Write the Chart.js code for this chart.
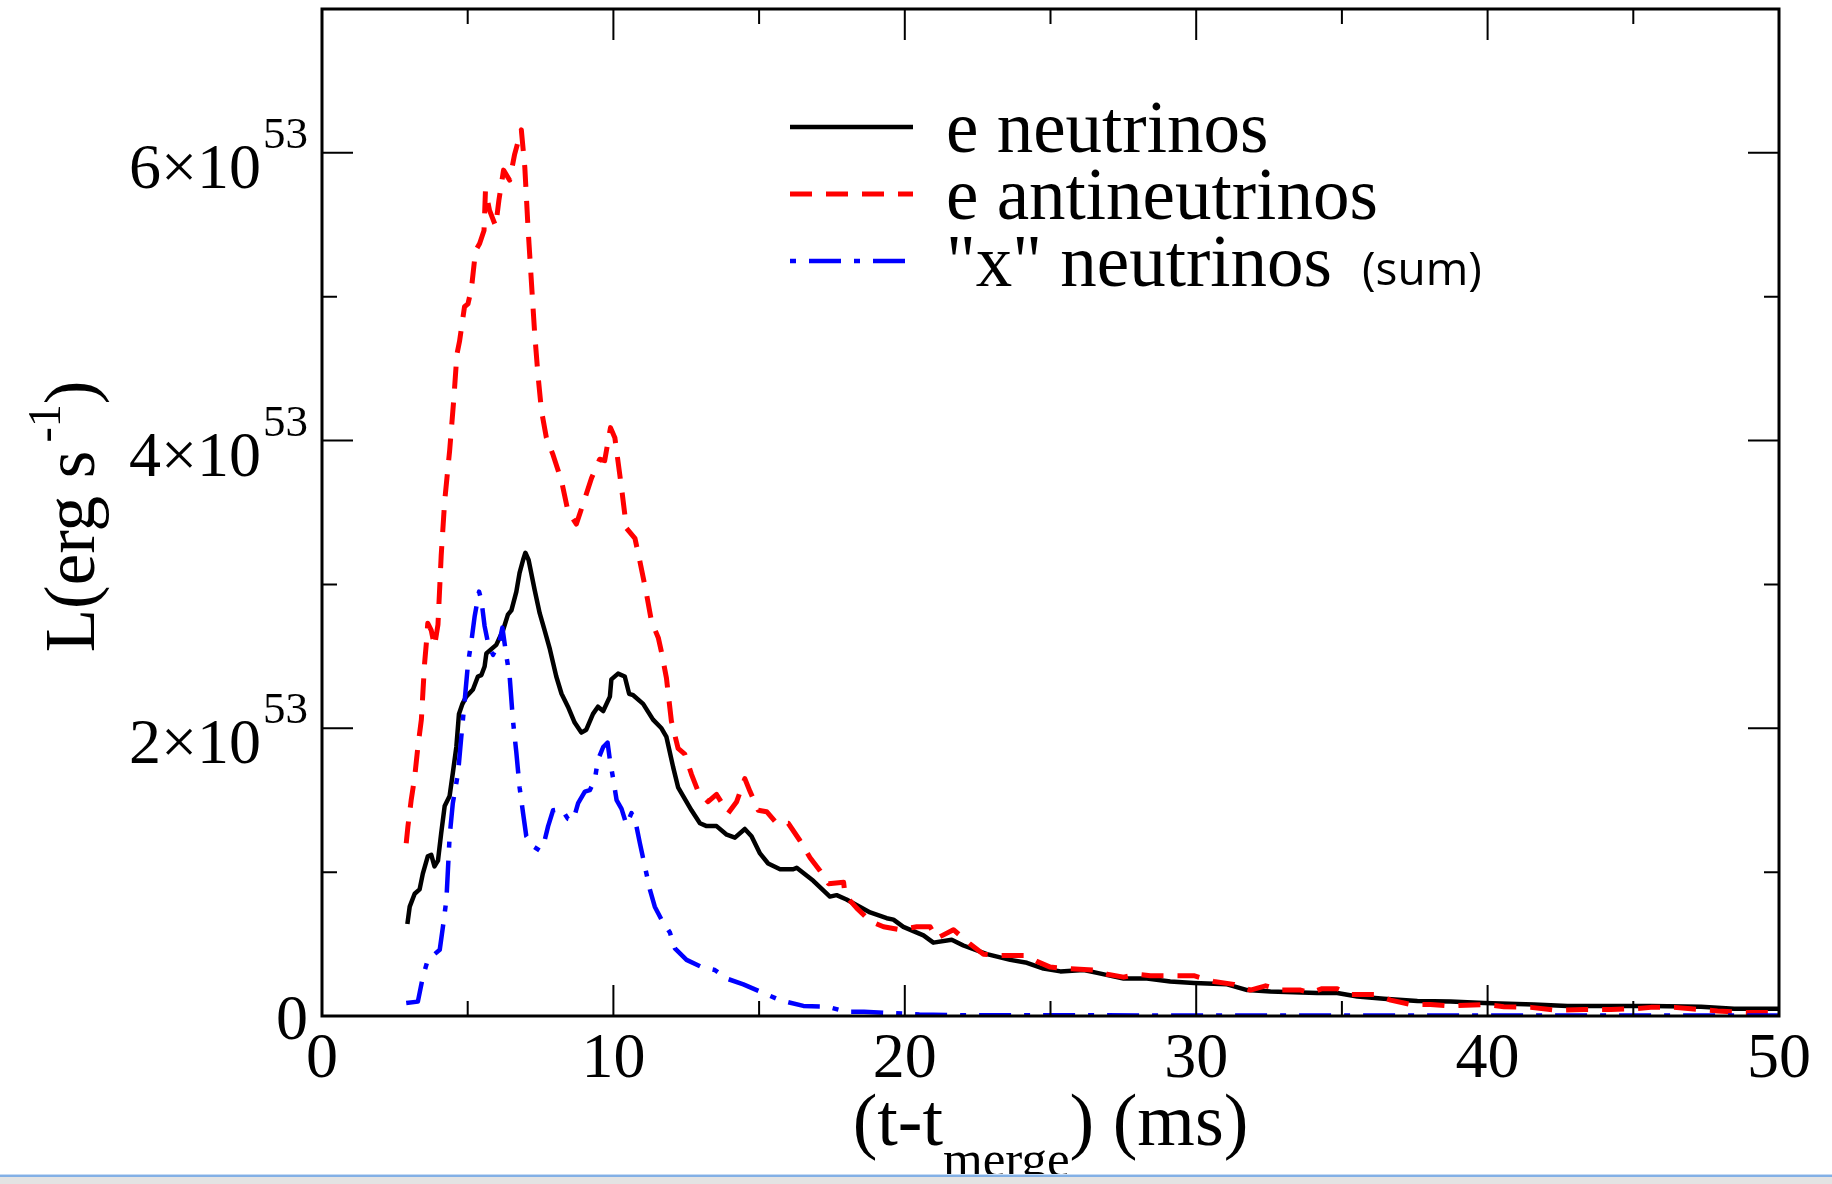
<!DOCTYPE html>
<html>
<head>
<meta charset="utf-8">
<title>Neutrino luminosities after merger</title>
<script src="https://cdn.jsdelivr.net/npm/chart.js@4.4.1/dist/chart.umd.min.js"></script>
<style>
  html, body { margin: 0; padding: 0; background: #fff; }
  #wrap { position: relative; width: 1832px; height: 1184px; overflow: hidden; }
  #bar-line { position: absolute; left: 0; top: 1174px; width: 1832px; height: 1px; background: #c4daf4; }
  #bar-line2 { position: absolute; left: 0; top: 1175px; width: 1832px; height: 2px; background: #82b0e6; }
  #bar { position: absolute; left: 0; top: 1177px; width: 1832px; height: 7px; background: #e3e3e3; }
</style>
</head>
<body>
<div id="wrap">
  <canvas id="chart" width="1832" height="1184"></canvas>
  <div id="bar-line"></div>
  <div id="bar-line2"></div>
  <div id="bar"></div>
</div>
<script>
// time after merger (ms) and luminosity in units of 10^53 erg/s
const tNu = [2.93, 3.01, 3.18, 3.35, 3.46, 3.63, 3.75, 3.86, 3.98, 4.09, 4.21, 4.38, 4.49, 4.61, 4.70, 4.82, 4.95, 5.18, 5.35, 5.47,
  5.58, 5.64, 5.81, 5.98, 6.21, 6.38, 6.50, 6.67, 6.78, 6.90, 6.98, 7.09, 7.30, 7.47, 7.64, 7.82, 8.04, 8.22, 8.44, 8.67,
  8.90, 9.07, 9.30, 9.47, 9.65, 9.88, 9.93, 10.16, 10.39, 10.54, 10.68, 11.02, 11.36, 11.65, 11.82, 12.05, 12.22, 12.39, 12.68, 12.97,
  13.20, 13.54, 13.89, 14.17, 14.51, 14.74, 15.03, 15.31, 15.72, 16.17, 16.29, 16.86, 17.43, 17.66, 18.00, 18.81, 19.38, 19.61, 19.95, 20.64,
  20.98, 21.61, 22.01, 22.82, 23.62, 24.19, 24.76, 25.34, 26.14, 26.60, 27.51, 28.31, 29.11, 29.92, 31.06, 31.75, 32.55, 34.15, 34.84, 35.53,
  36.44, 37.59, 38.73, 39.88, 41.59, 42.74, 44.46, 45.60, 47.32, 48.46, 50.00]
const lNu = [0.64, 0.76, 0.85, 0.88, 0.99, 1.11, 1.12, 1.04, 1.08, 1.27, 1.46, 1.53, 1.69, 1.87, 2.10, 2.17, 2.22, 2.27, 2.36, 2.37,
  2.43, 2.52, 2.55, 2.58, 2.68, 2.79, 2.82, 2.95, 3.08, 3.17, 3.22, 3.17, 2.96, 2.80, 2.68, 2.55, 2.36, 2.24, 2.15, 2.04,
  1.97, 1.99, 2.10, 2.15, 2.12, 2.22, 2.34, 2.38, 2.36, 2.24, 2.23, 2.17, 2.06, 2.00, 1.94, 1.73, 1.59, 1.53, 1.43, 1.34,
  1.32, 1.32, 1.26, 1.24, 1.30, 1.25, 1.13, 1.06, 1.02, 1.02, 1.03, 0.94, 0.83, 0.84, 0.81, 0.72, 0.68, 0.67, 0.62, 0.56,
  0.51, 0.53, 0.49, 0.43, 0.39, 0.37, 0.33, 0.31, 0.32, 0.30, 0.26, 0.26, 0.24, 0.23, 0.22, 0.18, 0.17, 0.16, 0.16, 0.135,
  0.12, 0.105, 0.10, 0.09, 0.08, 0.07, 0.07, 0.07, 0.065, 0.05, 0.05]

const tNuBar = [2.89, 2.95, 3.06, 3.18, 3.29, 3.41, 3.46, 3.52, 3.58, 3.63, 3.75, 3.86, 3.98, 4.09, 4.21, 4.38, 4.52, 4.63, 4.72, 4.89,
  5.01, 5.13, 5.27, 5.41, 5.56, 5.61, 5.75, 5.96, 6.07, 6.23, 6.44, 6.61, 6.84, 6.96, 7.07, 7.19, 7.30, 7.41, 7.53, 7.70,
  7.93, 8.22, 8.44, 8.73, 8.96, 9.25, 9.53, 9.70, 9.90, 10.05, 10.28, 10.45, 10.74, 10.91, 11.14, 11.31, 11.54, 11.65, 11.82, 11.99,
  12.22, 12.45, 12.68, 12.91, 13.25, 13.54, 13.94, 14.23, 14.51, 14.69, 14.97, 15.26, 15.60, 16.00, 16.40, 16.75, 17.09, 17.38, 17.90, 17.95,
  18.35, 18.81, 19.27, 19.84, 20.41, 20.87, 21.10, 21.67, 22.24, 22.70, 23.27, 24.19, 24.53, 24.99, 25.57, 26.48, 26.94, 27.51, 27.97, 28.43,
  29.23, 29.92, 30.60, 31.29, 31.86, 32.38, 32.89, 33.58, 33.92, 34.32, 34.84, 35.29, 36.10, 36.67, 37.36, 38.04, 38.73, 39.88, 40.56, 41.48,
  42.40, 43.31, 44.23, 45.03, 45.60, 46.40, 46.98, 47.89, 48.81, 50.00]
const lNuBar = [1.20, 1.32, 1.50, 1.66, 1.87, 2.06, 2.24, 2.45, 2.59, 2.73, 2.68, 2.57, 2.72, 3.20, 3.58, 3.93, 4.28, 4.60, 4.69, 4.93,
  4.95, 5.06, 5.32, 5.37, 5.46, 5.74, 5.60, 5.49, 5.67, 5.88, 5.81, 5.99, 6.16, 5.90, 5.48, 5.09, 4.74, 4.46, 4.21, 4.02,
  3.90, 3.72, 3.51, 3.42, 3.56, 3.74, 3.87, 3.86, 4.09, 4.02, 3.67, 3.39, 3.32, 3.16, 2.93, 2.74, 2.63, 2.53, 2.35, 2.05,
  1.86, 1.82, 1.68, 1.56, 1.49, 1.54, 1.41, 1.49, 1.65, 1.56, 1.43, 1.42, 1.34, 1.34, 1.22, 1.10, 1.01, 0.92, 0.93, 0.84,
  0.75, 0.66, 0.62, 0.60, 0.62, 0.62, 0.54, 0.60, 0.50, 0.43, 0.42, 0.42, 0.38, 0.34, 0.33, 0.32, 0.29, 0.27, 0.29, 0.28,
  0.28, 0.28, 0.24, 0.22, 0.18, 0.21, 0.18, 0.18, 0.16, 0.19, 0.19, 0.15, 0.15, 0.11, 0.08, 0.08, 0.07, 0.08, 0.065, 0.06,
  0.04, 0.045, 0.045, 0.05, 0.06, 0.06, 0.05, 0.035, 0.025, 0.025]

const tNuX = [2.89, 3.29, 3.46, 3.63, 4.04, 4.15, 4.27, 4.38, 4.49, 4.67, 4.78, 4.90, 5.01, 5.13, 5.24, 5.39, 5.47, 5.58, 5.70, 5.87,
  6.10, 6.19, 6.33, 6.44, 6.55, 6.67, 6.78, 6.90, 7.01, 7.24, 7.47, 7.64, 7.76, 7.93, 8.22, 8.44, 8.62, 8.79, 9.02, 9.19,
  9.36, 9.47, 9.65, 9.80, 9.88, 10.00, 10.11, 10.28, 10.45, 10.62, 10.74, 10.91, 11.08, 11.25, 11.42, 11.65, 11.94, 12.11, 12.51, 13.03,
  13.48, 13.89, 14.46, 15.03, 15.72, 16.52, 17.32, 18.00, 18.60, 19.60, 20.50, 22.00, 30.00, 40.00, 50.00]
const lNuX = [0.09, 0.10, 0.27, 0.39, 0.46, 0.62, 0.81, 1.25, 1.48, 1.69, 1.94, 2.20, 2.45, 2.61, 2.78, 2.95, 2.89, 2.71, 2.59, 2.51,
  2.61, 2.70, 2.50, 2.36, 2.06, 1.83, 1.59, 1.41, 1.25, 1.18, 1.15, 1.22, 1.32, 1.43, 1.44, 1.37, 1.36, 1.48, 1.56, 1.57,
  1.64, 1.78, 1.87, 1.90, 1.78, 1.64, 1.50, 1.44, 1.33, 1.41, 1.37, 1.20, 1.04, 0.88, 0.76, 0.67, 0.58, 0.47, 0.39, 0.34,
  0.32, 0.26, 0.22, 0.17, 0.11, 0.07, 0.065, 0.03, 0.03, 0.02, 0.01, 0.005, 0.004, 0.003, 0.003]

const xMajor = [0, 10, 20, 30, 40, 50]
const xMinor = [5, 15, 25, 35, 45]
const yMajor = [0, 2, 4, 6]
const yMinor = [1, 3, 5]
const yExponent = '53'

const legendLabels = ['e neutrinos', 'e antineutrinos', '"x" neutrinos']
const legendNote = '(sum)'

const SERIF = '"Liberation Serif", "Times New Roman", serif'
const SANS = '"Open Sans", "Noto Sans", sans-serif'

const toPoints = (ts, ls) => ts.map((t, i) => ({ x: t, y: ls[i] }))

// draws a row of text pieces (some raised or lowered) starting at x0
function drawPieces(ctx, pieces, x0, y0) {
  let x = x0
  pieces.forEach(p => {
    ctx.font = `${p.size}px ${p.family || SERIF}`
    ctx.fillText(p.text, x, y0 + (p.dy || 0))
    x += ctx.measureText(p.text).width + (p.gap || 0)
  })
}

function piecesWidth(ctx, pieces) {
  let w = 0
  pieces.forEach(p => {
    ctx.font = `${p.size}px ${p.family || SERIF}`
    w += ctx.measureText(p.text).width + (p.gap || 0)
  })
  return w
}

const Frame = {
  id: 'frame',
  afterDatasetsDraw(chart) {
    const { ctx, chartArea: a, scales: { x, y } } = chart
    ctx.save()
    ctx.strokeStyle = '#000'
    ctx.lineCap = 'butt'

    // ticks point inward on all four sides
    const tick = (px, len, vertical) => {
      if (vertical) {
        ctx.moveTo(px, a.bottom); ctx.lineTo(px, a.bottom - len)
        ctx.moveTo(px, a.top); ctx.lineTo(px, a.top + len)
      } else {
        ctx.moveTo(a.left, px); ctx.lineTo(a.left + len, px)
        ctx.moveTo(a.right, px); ctx.lineTo(a.right - len, px)
      }
    }
    ctx.lineWidth = 2
    ctx.beginPath()
    xMajor.forEach(v => tick(x.getPixelForValue(v), 31, true))
    xMinor.forEach(v => tick(x.getPixelForValue(v), 15, true))
    yMajor.forEach(v => tick(y.getPixelForValue(v), 31, false))
    yMinor.forEach(v => tick(y.getPixelForValue(v), 15, false))
    ctx.stroke()

    ctx.lineWidth = 3
    ctx.strokeRect(a.left, a.top, a.right - a.left, a.bottom - a.top)
    ctx.restore()
  },

  afterDraw(chart) {
    const { ctx, chartArea: a, scales: { x, y } } = chart
    ctx.save()
    ctx.fillStyle = '#000'
    ctx.textBaseline = 'alphabetic'

    // x tick labels
    ctx.font = `64px ${SERIF}`
    ctx.textAlign = 'center'
    xMajor.forEach(v => ctx.fillText(String(v), x.getPixelForValue(v), a.bottom + 61))

    // y tick labels, n×10^53
    yMajor.forEach(v => {
      const py = y.getPixelForValue(v)
      const right = a.left - 14
      if (v === 0) {
        ctx.font = `64px ${SERIF}`
        ctx.textAlign = 'right'
        ctx.fillText('0', right, py + 23)
        return
      }
      ctx.font = `45px ${SERIF}`
      const supW = ctx.measureText(yExponent).width
      ctx.textAlign = 'left'
      ctx.fillText(yExponent, right - supW, py - 5)
      ctx.font = `64px ${SERIF}`
      ctx.textAlign = 'right'
      ctx.fillText(v + '×10', right - supW - 2, py + 35)
    })

    ctx.textAlign = 'left'

    // x axis title
    const xTitle = [
      { text: '(t-t', size: 74 },
      { text: 'merge', size: 51, dy: 31 },
      { text: ') (ms)', size: 74 }
    ]
    const cx = (a.left + a.right) / 2
    drawPieces(ctx, xTitle, cx - piecesWidth(ctx, xTitle) / 2, a.bottom + 129)

    // y axis title, rotated
    const yTitle = [
      { text: 'L(erg s', size: 71, gap: 8 },
      { text: '-1', size: 46, dy: -34 },
      { text: ')', size: 71 }
    ]
    ctx.save()
    ctx.translate(94, (a.top + a.bottom) / 2 + 4)
    ctx.rotate(-Math.PI / 2)
    drawPieces(ctx, yTitle, -piecesWidth(ctx, yTitle) / 2, 0)
    ctx.restore()

    // legend
    const lx = a.left + 468, ly = a.top + 118, step = 67
    chart.data.datasets.forEach((ds, i) => {
      const rowY = ly + i * step
      ctx.save()
      ctx.strokeStyle = ds.borderColor
      ctx.lineWidth = ds.borderWidth
      ctx.setLineDash(ds.borderDash || [])
      ctx.lineDashOffset = ds.legendDashOffset || 0
      ctx.beginPath()
      ctx.moveTo(lx, rowY)
      ctx.lineTo(lx + 123, rowY)
      ctx.stroke()
      ctx.restore()

      ctx.font = `73px ${SERIF}`
      ctx.fillText(legendLabels[i], lx + 156, rowY + 25)
      if (i === 2) {
        const w = ctx.measureText(legendLabels[i]).width
        ctx.font = `46px ${SANS}`
        ctx.fillText(legendNote, lx + 156 + w + 30, rowY + 24)
      }
    })
    ctx.restore()
  }
}

const ctx = document.getElementById('chart')

new Chart(ctx, {
  type: 'line',
  data: {
    datasets: [{
      label: legendLabels[0],
      data: toPoints(tNu, lNu),
      borderColor: '#000000',
      borderWidth: 4.5,
      order: 3
    },
    {
      label: legendLabels[1],
      data: toPoints(tNuBar, lNuBar),
      borderColor: '#ff0000',
      borderWidth: 5,
      borderDash: [22, 14],
      order: 2
    },
    {
      label: legendLabels[2],
      data: toPoints(tNuX, lNuX),
      borderColor: '#0000ff',
      borderWidth: 4.5,
      borderDash: [32, 13, 6, 13],
      legendDashOffset: 45,
      order: 1
    }]
  },
  options: {
    responsive: false,
    animation: false,
    layout: { padding: { left: 322, right: 53, top: 9, bottom: 168 } },
    elements: {
      point: { radius: 0 },
      line: { tension: 0, fill: false, borderCapStyle: 'butt', borderJoinStyle: 'round' }
    },
    plugins: {
      legend: { display: false },
      tooltip: { enabled: false }
    },
    scales: {
      x: { type: 'linear', min: 0, max: 50, display: false },
      y: { type: 'linear', min: 0, max: 7, display: false }
    }
  },
  plugins: [Frame]
})
</script>
</body>
</html>
